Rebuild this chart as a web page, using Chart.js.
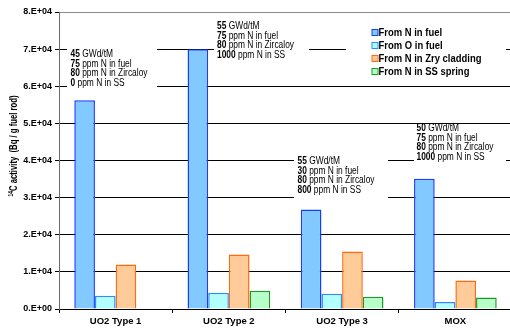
<!DOCTYPE html>
<html>
<head>
<meta charset="utf-8">
<script src="https://cdn.jsdelivr.net/npm/chart.js@4.4.1/dist/chart.umd.min.js"></script>
<style>
  html, body { margin: 0; padding: 0; background: #fff; overflow: hidden; }
  #wrap { width: 514px; height: 329px; }
</style>
</head>
<body>
<div id="wrap"><canvas id="c" width="514" height="329"></canvas></div>
<script>
// Fuel rod types on the category axis
const categories = ['UO2 Type 1', 'UO2 Type 2', 'UO2 Type 3', 'MOX'];

// 14C activity (Bq per g of fuel rod) by production route
const fromNInFuel     = [56200, 70000, 26800, 35100];
const fromOInFuel     = [3600, 4400, 4100, 1900];
const fromNInCladding = [12000, 14700, 15500, 7700];
const fromNInSpring   = [0, 4900, 3300, 3100];

const seriesLabels = ['From N in fuel', 'From O in fuel', 'From N in Zry cladding', 'From N in SS spring'];

// Irradiation conditions for each rod type
const burnupGWd   = [45, 55, 55, 50];
const ppmNFuel    = [75, 75, 30, 75];
const ppmNZry     = [80, 80, 80, 80];
const ppmNSteel   = [0, 1000, 800, 1000];

// y-axis tick values
const yTickValues = [0, 10000, 20000, 30000, 40000, 50000, 60000, 70000, 80000];

const FONT = "'Liberation Sans', Arial, sans-serif";

const fills   = ['#82c9ff', '#b3ffff', '#ffcc99', '#b6ffc8'];
const borders = ['#1a3cff', '#2a8cff', '#ff6a10', '#1f9a2a'];

const seriesValues = [fromNInFuel, fromOInFuel, fromNInCladding, fromNInSpring];

const datasets = seriesValues.map((vals, i) => ({
  label: seriesLabels[i],
  data: vals,
  backgroundColor: fills[i],
  borderColor: borders[i],
  borderWidth: 1.5,
  borderSkipped: 'start',
  categoryPercentage: 0.73,
  barPercentage: 1.0
}));

// text blocks describing each rod, with their white backing boxes (pixels)
const noteLayout = [
  { x: 70.5,  y: 54.5,  box: [67, 47, 157, 88] },
  { x: 217,   y: 26.5,  box: [214, 19, 309, 61] },
  { x: 297.5, y: 161.5, box: [294, 155, 388, 199] },
  { x: 416.5, y: 128.5, box: [414, 124.5, 506, 166] }
];
const noteLines = [
  [burnupGWd, ' GWd/tM'],
  [ppmNFuel, ' ppm N in fuel'],
  [ppmNZry, ' ppm N in Zircaloy'],
  [ppmNSteel, ' ppm N in SS']
];

function drawSqueezed(ctx, parts, x, y, sx) {
  // parts: [[text, font], ...] drawn left to right with horizontal scale sx
  ctx.save();
  ctx.translate(x, y);
  ctx.scale(sx, 1);
  let cx = 0;
  for (const [t, f] of parts) {
    ctx.font = f;
    ctx.fillText(t, cx, 0);
    cx += ctx.measureText(t).width;
  }
  ctx.restore();
}
function partsWidth(ctx, parts) {
  let w = 0;
  for (const [t, f] of parts) { ctx.font = f; w += ctx.measureText(t).width; }
  return w;
}

const decorations = {
  id: 'decorations',
  beforeDatasetsDraw(chart) {
    const ctx = chart.ctx;
    ctx.save();
    ctx.fillStyle = '#fff';
    noteLayout.forEach(n => {
      const [x0, y0, x1, y1] = n.box;
      ctx.fillRect(x0, y0, x1 - x0, y1 - y0);
    });
    // legend backing
    ctx.fillRect(346, 22, 160, 58);
    ctx.restore();
  },
  afterDatasetsDraw(chart) {
    const ctx = chart.ctx;
    ctx.save();
    ctx.fillStyle = '#000';
    ctx.textBaseline = 'middle';
    ctx.textAlign = 'left';

    // condition notes
    const bold = `700 10px ${FONT}`, reg = `400 10px ${FONT}`;
    const ref = [['80', bold], [' ppm N in Zircaloy', reg]];
    const sx = 77 / partsWidth(ctx, ref);
    noteLayout.forEach((n, i) => {
      noteLines.forEach(([vals, txt], k) => {
        drawSqueezed(ctx, [[String(vals[i]), bold], [txt, reg]], n.x, n.y + k * 9.6, sx);
      });
    });

    // legend
    const lf = `700 10.5px ${FONT}`;
    const lsx = 103 / partsWidth(ctx, [['From N in Zry cladding', lf]]);
    chart.data.datasets.forEach((ds, i) => {
      const cy = 32.5 + i * 13;
      ctx.fillStyle = ds.backgroundColor;
      ctx.fillRect(372, cy - 3, 6, 6);
      ctx.strokeStyle = ds.borderColor;
      ctx.lineWidth = 1;
      ctx.strokeRect(372, cy - 3, 6, 6);
      ctx.fillStyle = '#000';
      drawSqueezed(ctx, [[ds.label, lf]], 378.5, cy + 0.5, lsx);
    });

    // y-axis title with superscript mass number
    const tf = `700 11px ${FONT}`, sf = `700 7px ${FONT}`;
    const main = 'C activity  (Bq / g fuel rod)';
    ctx.font = sf; const wSup = ctx.measureText('14').width;
    ctx.font = tf; const wMain = ctx.measureText(main).width;
    const scale = 101 / (wSup + wMain);
    ctx.translate(17, 146);
    ctx.rotate(-Math.PI / 2);
    ctx.scale(scale, 1);
    ctx.textAlign = 'left';
    ctx.textBaseline = 'alphabetic';
    const start = -(wSup + wMain) / 2;
    ctx.font = sf; ctx.fillText('14', start, -4);
    ctx.font = tf; ctx.fillText(main, start + wSup, 0);
    ctx.restore();
  }
};

new Chart(document.getElementById('c'), {
  type: 'bar',
  data: { labels: categories, datasets },
  plugins: [decorations],
  options: {
    responsive: false,
    animation: false,
    devicePixelRatio: 1,
    layout: { padding: { top: 12, right: 2, left: 0, bottom: 0 } },
    plugins: { legend: { display: false }, tooltip: { enabled: false } },
    scales: {
      x: {
        grid: { display: true, drawOnChartArea: false, drawTicks: true, tickLength: 4, color: '#000', offset: true },
        border: { color: '#000', width: 1 },
        ticks: { color: '#000', font: { family: FONT, size: 9.5, weight: 'bold' }, padding: 3, maxRotation: 0 },
        afterFit(s) { s.height = 20; }
      },
      y: {
        min: 0, max: 80000,
        afterBuildTicks(s) { s.ticks = yTickValues.map(v => ({ value: v })); },
        grid: {
          color: c => (c.tick && c.tick.value === 80000 ? '#8c8c8c' : '#000'),
          tickColor: '#000',
          tickLength: 4,
          lineWidth: 1
        },
        border: { color: '#6a6a6a', width: 1 },
        ticks: {
          color: '#000',
          padding: 3,
          font: { family: FONT, size: 9, weight: 'bold' },
          callback: v => (v === 0 ? '0.E+00' : (v / 10000) + '.E+04')
        },
        afterFit(s) { s.width = 59; }
      }
    }
  }
});
</script>
</body>
</html>
